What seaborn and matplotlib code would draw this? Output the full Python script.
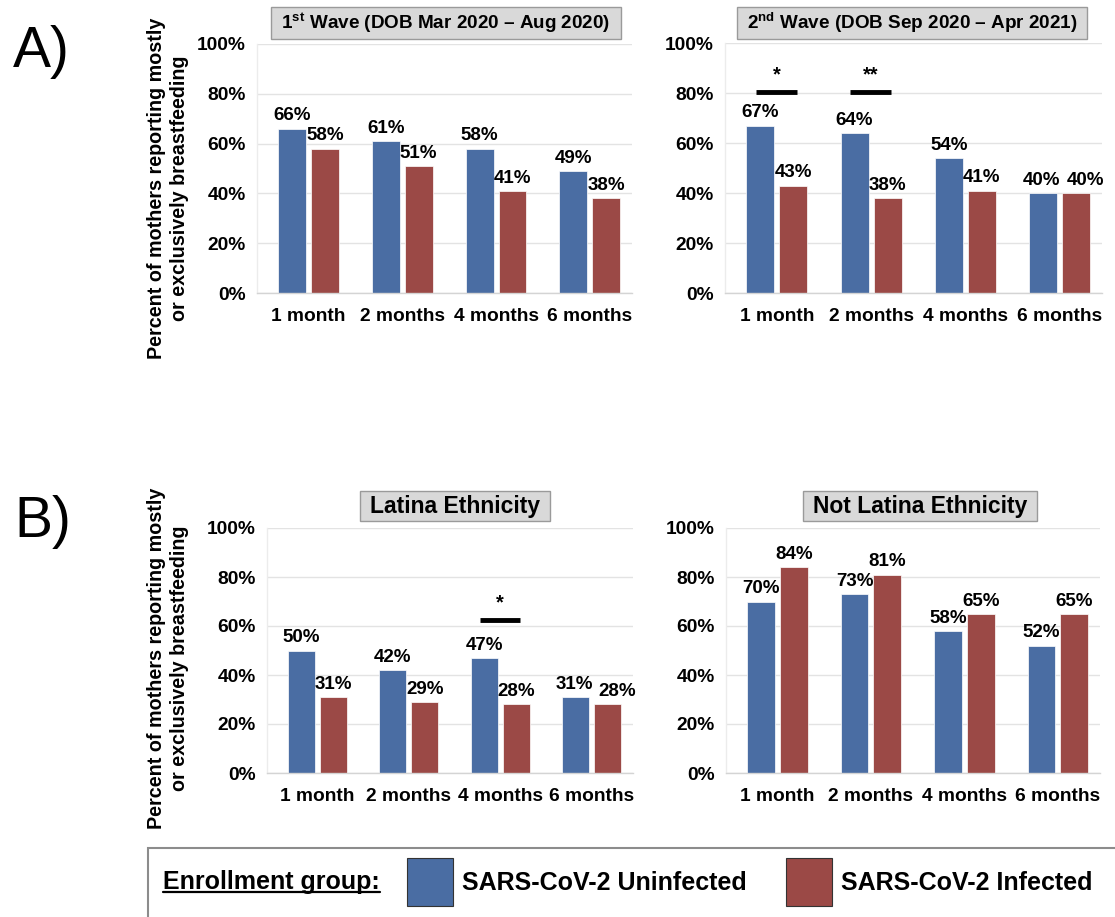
import matplotlib
matplotlib.use("Agg")
import matplotlib.pyplot as plt
import seaborn as sns
import pandas as pd
from matplotlib.font_manager import FontProperties
from matplotlib.patches import Rectangle
from matplotlib.lines import Line2D

# ---------------- data ----------------
months = ["1 month", "2 months", "4 months", "6 months"]
groups = ["SARS-CoV-2 Uninfected", "SARS-CoV-2 Infected"]

wave1_uninfected = [66, 61, 58, 49]
wave1_infected = [58, 51, 41, 38]
wave2_uninfected = [67, 64, 54, 40]
wave2_infected = [43, 38, 41, 40]
latina_uninfected = [50, 42, 47, 31]
latina_infected = [31, 29, 28, 28]
notlatina_uninfected = [70, 73, 58, 52]
notlatina_infected = [84, 81, 65, 65]

yticks = [0, 20, 40, 60, 80, 100]
ytick_labels = ["0%", "20%", "40%", "60%", "80%", "100%"]

wave2_sig = [("1 month", "*"), ("2 months", "**")]
latina_sig = [("4 months", "*")]

titles = [r"1$^{\mathbf{st}}$ Wave (DOB Mar 2020 – Aug 2020)",
          r"2$^{\mathbf{nd}}$ Wave (DOB Sep 2020 – Apr 2021)",
          "Latina Ethnicity", "Not Latina Ethnicity"]
ylabel = "Percent of mothers reporting mostly\nor exclusively breastfeeding"
legend_title = "Enrollment group:"

BLUE = "#4a6da3"
RED = "#9b4946"

# ---------------- style ----------------
sns.set_theme(style="whitegrid")
plt.rcParams["font.family"] = ["Liberation Sans", "DejaVu Sans"]
plt.rcParams["text.color"] = "black"
plt.rcParams["mathtext.fontset"] = "custom"
plt.rcParams["mathtext.rm"] = "Liberation Sans:bold"
plt.rcParams["mathtext.bf"] = "Liberation Sans:bold"

leg_font = FontProperties(family="Liberation Sans", weight="bold", size=18)

W, H = 1115, 917
fig = plt.figure(figsize=(W / 100, H / 100), dpi=100)


def px_axes(left, top, right, bottom):
    return fig.add_axes([left / W, 1 - bottom / H, (right - left) / W, (bottom - top) / H])


title_items = []


def panel(ax, uninf, inf, title, tsize, tpos, sig=None, sig_y=None, legend=False):
    df = pd.DataFrame({
        "month": months * 2,
        "group": [groups[0]] * len(months) + [groups[1]] * len(months),
        "value": list(uninf) + list(inf),
    })
    sns.barplot(data=df, x="month", y="value", hue="group", order=months,
                hue_order=groups, palette=[BLUE, RED], saturation=1,
                width=0.7, gap=0.15, errorbar=None, ax=ax, legend=legend,
                edgecolor="white", linewidth=0.5)
    anns = []
    for c in ax.containers:
        anns.append(ax.bar_label(c, fmt="%.0f%%", padding=3, fontsize=13.5,
                                 fontweight="bold", color="black"))
    # nudge labels apart where the two bars are of similar height
    for k in range(len(months)):
        if abs(uninf[k] - inf[k]) <= 4:
            anns[0][k].xyann = (-1, 3)
            anns[1][k].xyann = (7, 3)
    ax.set_ylim(0, 100)
    ax.set_xlim(-0.55, 3.45)
    ax.set_yticks(yticks)
    ax.set_yticklabels(ytick_labels)
    ax.set_xlabel("")
    ax.set_ylabel("")
    ax.grid(axis="y", color="#e3e3e3", linewidth=1)
    ax.grid(axis="x", visible=False)
    for s in ["top", "right"]:
        ax.spines[s].set_visible(False)
    ax.spines["left"].set_color("#ececec")
    ax.spines["bottom"].set_color("#d4d4d4")
    ax.spines["left"].set_linewidth(1)
    ax.spines["bottom"].set_linewidth(1)
    ax.tick_params(axis="both", length=0, labelsize=13.8, labelcolor="black")
    ax.tick_params(axis="y", pad=8)
    ax.tick_params(axis="x", pad=11)
    for lab in ax.get_xticklabels() + ax.get_yticklabels():
        lab.set_fontweight("bold")
    ax.set_facecolor("white")
    t = fig.text(tpos[0] / W, 1 - tpos[1] / H, title, ha="center", va="center",
                 fontsize=tsize, fontweight="bold", zorder=5)
    title_items.append(t)
    if sig:
        for m, lab in sig:
            i = months.index(m)
            ax.plot([i - 0.22, i + 0.21], [sig_y, sig_y], color="black", lw=3.5,
                    solid_capstyle="butt")
            ax.text(i - 0.005, sig_y + 3, lab, ha="center", va="bottom",
                    fontsize=14.5, fontweight="bold")


ax1 = px_axes(257, 44, 632, 293)
ax2 = px_axes(725, 43, 1102, 293)
ax3 = px_axes(267, 528, 633, 773)
ax4 = px_axes(726, 528, 1100, 773)

panel(ax1, wave1_uninfected, wave1_infected, titles[0], 13.6, (446, 23), legend=True)
panel(ax2, wave2_uninfected, wave2_infected, titles[1], 13.6, (912, 23),
      sig=wave2_sig, sig_y=80.5)
panel(ax3, latina_uninfected, latina_infected, titles[2], 16.5, (455, 506),
      sig=latina_sig, sig_y=62.4)
panel(ax4, notlatina_uninfected, notlatina_infected, titles[3], 16.5, (920, 506))

handles, labels = ax1.get_legend_handles_labels()
ax1.get_legend().remove()

# panel letters and y labels
fig.text(13 / W, 1 - 52 / H, "A)", fontsize=41, va="center", ha="left")
fig.text(14 / W, 1 - 522 / H, "B)", fontsize=41, va="center", ha="left")
for yc in (188, 658):
    fig.text(168 / W, 1 - yc / H, ylabel, rotation=90, ha="center", va="center",
             fontsize=14.2, fontweight="bold", multialignment="center",
             linespacing=1.25)

# legend box
fig.patches.append(Rectangle((148 / W, -0.05), 1.2, (1 - 848 / H) + 0.05,
                             transform=fig.transFigure, fill=False,
                             ec="#8c8c8c", lw=1.5))
leg = fig.legend(handles, labels, loc="center left",
                 bbox_to_anchor=(407 / W, 1 - 882 / H), ncol=2, frameon=False,
                 prop=leg_font, handlelength=1.84, handleheight=2.55,
                 handletextpad=0.36, columnspacing=1.56, borderaxespad=0, borderpad=0)
for p in leg.get_patches():
    p.set_edgecolor("#333333")
    p.set_linewidth(0.8)

lt = fig.text(163 / W, 1 - 882 / H, legend_title, fontproperties=leg_font,
              va="center", ha="left")
fig.canvas.draw()
bb = lt.get_window_extent()
uy = (bb.y0 + 2.5) / H
fig.add_artist(Line2D([bb.x0 / W, bb.x1 / W], [uy, uy], transform=fig.transFigure,
                      color="black", lw=1.6))

# grey boxes behind the panel titles
for t in title_items:
    e = t.get_window_extent()
    px, py = 10, 3.5
    fig.add_artist(Rectangle(((e.x0 - px) / W, (e.y0 - py) / H),
                             (e.width + 2 * px) / W, (e.height + 2 * py) / H,
                             transform=fig.transFigure, fc="#d9d9d9", ec="#9a9a9a",
                             lw=1, zorder=4))

fig.savefig("out.png", dpi=100)
